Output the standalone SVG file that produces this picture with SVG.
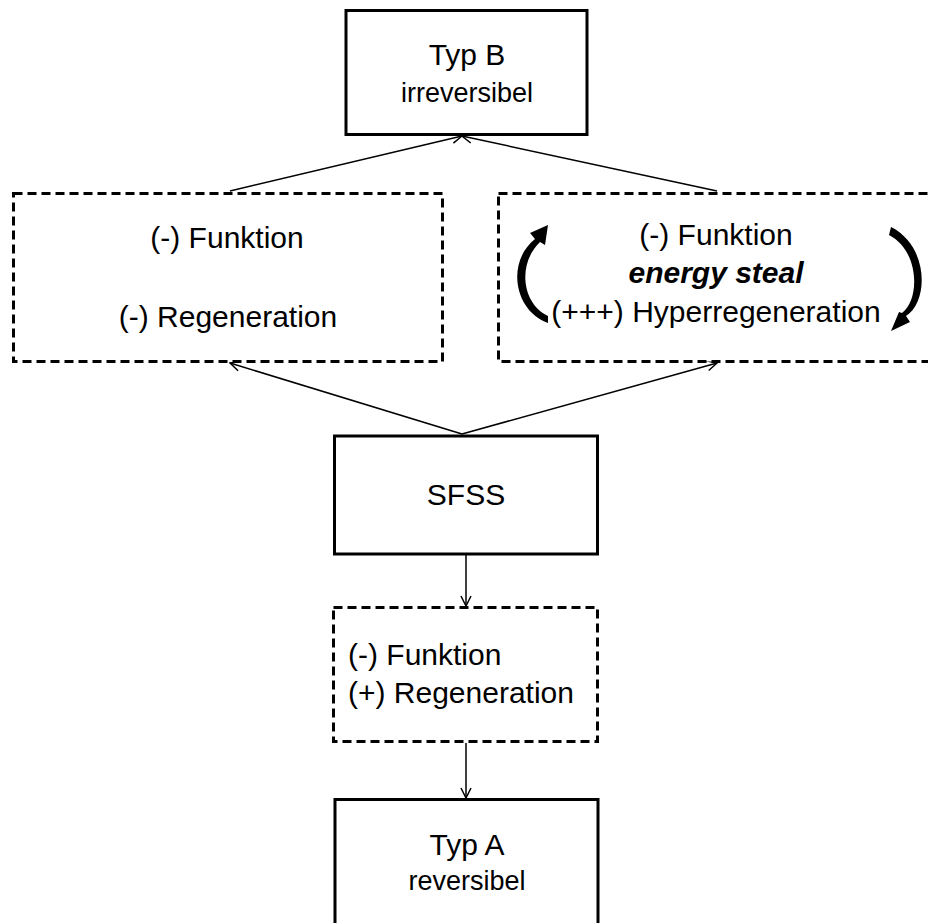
<svg xmlns="http://www.w3.org/2000/svg" width="928" height="923" viewBox="0 0 928 923">
  <style>
    .solid { fill: #ffffff; stroke: #000000; stroke-width: 3; }
    .dashed { fill: #ffffff; stroke: #000000; stroke-width: 3; stroke-dasharray: 9 5; }
    .t { font-family: "Liberation Sans", Arial, sans-serif; font-size: 30px; fill: #000000; }
    .s { font-family: "Liberation Sans", Arial, sans-serif; font-size: 27px; fill: #000000; }
    .bi { font-family: "Liberation Sans", Arial, sans-serif; font-size: 30px; font-weight: bold; font-style: italic; fill: #000000; }
    .mid { text-anchor: middle; }
    .edge { fill: none; stroke: #000000; stroke-width: 1.5; marker-end: url(#open); }
  </style>
  <defs>
    <marker id="open" viewBox="0 0 12 12" refX="11" refY="6" markerWidth="12" markerHeight="12" markerUnits="userSpaceOnUse" orient="auto">
      <path d="M1,1 L11,6 L1,11" fill="none" stroke="#000000" stroke-width="1.5"/>
    </marker>
  </defs>
  <rect width="928" height="923" fill="#ffffff"/>

  <g id="connectors">
    <line class="edge" x1="230" y1="191" x2="462" y2="136"/>
    <line class="edge" x1="717" y1="191" x2="462" y2="136"/>
    <line class="edge" x1="462" y1="434" x2="230" y2="363"/>
    <line class="edge" x1="462" y1="434" x2="717" y2="363"/>
    <line class="edge" x1="466" y1="555" x2="466" y2="606"/>
    <line class="edge" x1="466" y1="743" x2="466" y2="798"/>
  </g>

  <g id="typ-b">
    <rect class="solid" x="346" y="10.5" width="241" height="124"/>
    <text class="t mid" x="467" y="65">Typ B</text>
    <text class="s mid" x="467" y="102">irreversibel</text>
  </g>

  <g id="loss">
    <rect class="dashed" x="13.5" y="193.5" width="429" height="168"/>
    <text class="t mid" x="227" y="248">(-) Funktion</text>
    <text class="t mid" x="228" y="327">(-) Regeneration</text>
  </g>

  <g id="energy-steal">
    <rect class="dashed" x="498.5" y="193.5" width="440" height="168"/>
    <text class="t mid" x="716" y="245">(-) Funktion</text>
    <text class="bi mid" x="716" y="283">energy steal</text>
    <text class="t mid" x="716" y="322">(+++) Hyperregeneration</text>
    <!-- cycle arrows around the text -->
    <path d="M 548 323 C 514 311 506 262 535 239 L 530 233 L 548 225 L 545 245 L 540 242 C 517 264 522 304 548 316 Z" fill="#000000"/>
    <path d="M 891 227 C 929 246 929 302 906 316 L 910 322 L 891 331 L 899 312 L 902 313 C 920 300 920 251 889 235 Z" fill="#000000"/>
  </g>

  <g id="sfss">
    <rect class="solid" x="334.5" y="436" width="263" height="118"/>
    <text class="t mid" x="466" y="505">SFSS</text>
  </g>

  <g id="recovery">
    <rect class="dashed" x="333.5" y="607.5" width="264" height="134"/>
    <text class="t" x="348" y="665">(-) Funktion</text>
    <text class="t" x="348" y="703">(+) Regeneration</text>
  </g>

  <g id="typ-a">
    <rect class="solid" x="335" y="799.5" width="263" height="150"/>
    <text class="t mid" x="467" y="855">Typ A</text>
    <text class="s mid" x="467" y="890">reversibel</text>
  </g>
</svg>
